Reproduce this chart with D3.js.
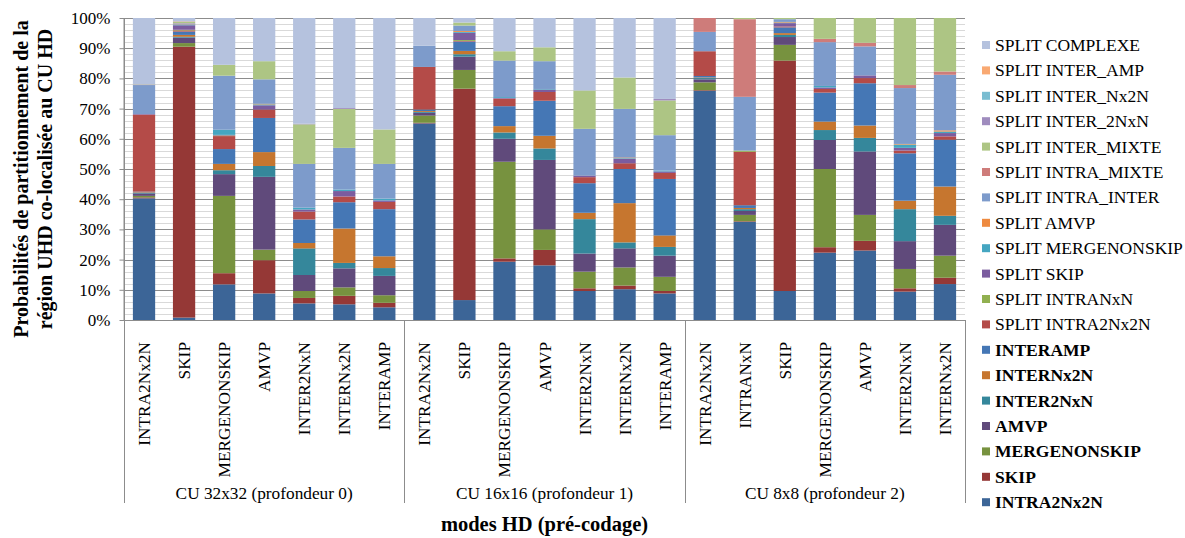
<!DOCTYPE html>
<html><head><meta charset="utf-8">
<script src="https://cdn.jsdelivr.net/npm/d3@7"></script>
<style>
body{margin:0;background:#fff}
svg{display:block}
text{font-family:"Liberation Serif","Times New Roman",serif;fill:#000}
</style>
</head><body><svg id="c" width="1185" height="538"></svg>
<script>
// ---------- DATA ----------
const categories = ["INTRA2Nx2N","SKIP","MERGENONSKIP","AMVP","INTER2NxN","INTERNx2N","INTERAMP",
  "INTRA2Nx2N","SKIP","MERGENONSKIP","AMVP","INTER2NxN","INTERNx2N","INTERAMP",
  "INTRA2Nx2N","INTRANxN","SKIP","MERGENONSKIP","AMVP","INTER2NxN","INTERNx2N"];
const groups = ["CU 32x32 (profondeur 0)","CU 16x16 (profondeur 1)","CU 8x8 (profondeur 2)"];
const groupSizes = [7,7,7];
const yTicks = [0,0.1,0.2,0.3,0.4,0.5,0.6,0.7,0.8,0.9,1];

// series, bottom of stack to top
const seriesNames = ["INTRA2Nx2N","SKIP","MERGENONSKIP","AMVP","INTER2NxN","INTERNx2N","INTERAMP",
  "SPLIT INTRA2Nx2N","SPLIT INTRANxN","SPLIT SKIP","SPLIT MERGENONSKIP","SPLIT AMVP",
  "SPLIT INTRA_INTER","SPLIT INTRA_MIXTE","SPLIT INTER_MIXTE","SPLIT INTER_2NxN",
  "SPLIT INTER_Nx2N","SPLIT INTER_AMP","SPLIT COMPLEXE"];

const INTRA2Nx2N   = [40.3,0.8,11.8,8.8,5.5,5.2,4.2, 65.1,6.6,19.3,18.1,9.6,10.2,8.8, 75.9,32.5,9.6,22.3,23.0,9.4,11.9];
const SKIP         = [0.3,89.7,3.7,11.0,1.8,2.8,1.5, 0.2,70.0,1.1,5.1,0.9,1.2,0.8, 0.2,0.2,76.3,1.8,3.2,1.1,2.1];
const MERGENONSKIP = [0.5,1.2,25.6,3.5,2.3,2.8,2.5, 2.4,6.2,32.0,6.8,5.5,6.0,4.7, 2.6,2.1,5.2,25.9,8.6,6.4,7.3];
const AMVP         = [0.8,1.8,7.2,24.1,5.3,6.3,6.4, 0.9,4.4,7.6,23.0,6.0,6.3,7.0, 1.0,1.3,2.6,9.6,21.0,9.2,10.2];
const INTER2NxN    = [0.2,0.3,1.3,3.6,8.8,1.8,2.6, 0.3,0.8,2.1,3.8,11.4,2.0,2.9, 0.4,0.6,0.7,3.3,4.5,10.6,3.0];
const INTERNx2N    = [0.2,0.6,2.1,4.6,1.8,11.4,3.9, 0.3,1.1,2.1,4.2,2.1,13.0,3.8, 0.2,0.4,0.6,2.8,4.1,2.8,9.7];
const INTERAMP     = [0.2,1.1,4.9,11.3,7.8,8.7,15.6, 0.5,3.1,6.6,11.6,9.8,11.3,18.7, 0.5,0.9,1.9,9.6,14.0,15.7,15.5];
const SPLIT_INTRA2Nx2N   = [25.5,0.4,4.3,2.8,2.6,1.9,2.4, 14.1,0.2,2.5,2.9,2.0,1.9,2.0, 8.2,17.7,0.3,1.2,1.7,0.9,1.1];
const SPLIT_INTRANxN     = [0,0.2,0.2,0,0,0,0, 0,0.3,0,0,0,0,0, 0,0.4,0,0,0,0,0];
const SPLIT_SKIP         = [0.2,1.5,0.2,1.4,0.7,1.8,0.5, 0,2.4,0.2,0.8,0.5,1.5,0.5, 0,0,1.1,0.5,0.9,0.9,1.1];
const SPLIT_MERGENONSKIP = [0,0.2,1.7,0.3,0.6,0.5,0.6, 0,0.3,0.3,0.2,0,0.2,0.3, 0,0,0.2,0.5,0,1.1,0.5];
const SPLIT_AMVP         = [0,0.1,0,0.2,0,0,0, 0,0.3,0,0,0,0.2,0, 0,0,0.2,0,0,0.2,0.4];
const SPLIT_INTRA_INTER  = [9.6,0.3,17.9,8.1,14.5,13.8,11.5, 7.0,1.8,12.1,9.2,15.5,16.1,11.7, 6.4,17.8,0.9,14.5,9.6,18.5,18.4];
const SPLIT_INTRA_MIXTE  = [0.1,0.1,0,0,0,0,0, 0,0,0,0,0,0,0, 4.6,25.7,0,1.1,1.2,1.0,1.1];
const SPLIT_INTER_MIXTE  = [0.1,0.4,3.6,6.0,13.1,12.9,11.4, 0,1.0,3.1,4.6,12.7,10.4,11.5, 0,0.4,0.4,6.9,8.2,22.2,17.7];
const SPLIT_INTER_2NxN   = [0,0.1,0,0,0.2,0.3,0, 0,0,0,0,0,0,0.5, 0,0,0,0,0,0,0];
const SPLIT_INTER_Nx2N   = [0,0.1,0,0,0,0,0, 0,0,0,0,0,0,0, 0,0,0,0,0,0,0];
const SPLIT_INTER_AMP    = [0,0.1,0,0,0,0,0, 0,0,0,0,0,0,0, 0,0,0,0,0,0,0];
const SPLIT_COMPLEXE     = [22.0,1.0,15.5,14.3,35.0,29.8,36.9, 9.2,1.5,11.0,9.7,24.0,19.7,26.8, 0,0,0,0,0,0,0];

const seriesValues = [INTRA2Nx2N,SKIP,MERGENONSKIP,AMVP,INTER2NxN,INTERNx2N,INTERAMP,
  SPLIT_INTRA2Nx2N,SPLIT_INTRANxN,SPLIT_SKIP,SPLIT_MERGENONSKIP,SPLIT_AMVP,
  SPLIT_INTRA_INTER,SPLIT_INTRA_MIXTE,SPLIT_INTER_MIXTE,SPLIT_INTER_2NxN,
  SPLIT_INTER_Nx2N,SPLIT_INTER_AMP,SPLIT_COMPLEXE];

const colors = ["#3C6597","#953836","#77923F","#604A7B","#35879B","#C6762F","#4577B5",
  "#B44B48","#91B050","#7B5C9F","#45A6C1","#EE8A3F",
  "#7D9BCB","#CE7C7A","#ADC584","#9F8CBE","#7ABDD1","#F9A972","#B5C2DE"];

// ---------- CHART ----------
const FS = "17.3px";
const m = {left:124,right:965,top:18,bottom:320};
const svg = d3.select("#c");
const ids = categories.map((c,i)=>i);
const x = d3.scaleBand().domain(ids).range([m.left,m.right]).paddingInner(0.444).paddingOuter(0.222);
const y = d3.scaleLinear().domain([0,1]).range([m.bottom,m.top]);
const color = d3.scaleOrdinal().domain(seriesNames).range(colors);

// minor gridlines every 2%
const minor = d3.range(1,50).map(k=>k*0.02).filter(v=>Math.round(v*100)%10!==0);
svg.append("g").selectAll("line").data(minor).join("line")
  .attr("x1",m.left).attr("x2",m.right)
  .attr("y1",d=>Math.round(y(d))+0.5).attr("y2",d=>Math.round(y(d))+0.5)
  .attr("stroke","#d9d9d9").attr("stroke-width",1);
// major gridlines
svg.append("g").selectAll("line").data(yTicks.slice(1)).join("line")
  .attr("x1",m.left).attr("x2",m.right)
  .attr("y1",d=>Math.round(y(d))+0.5).attr("y2",d=>Math.round(y(d))+0.5)
  .attr("stroke","#8c8c8c").attr("stroke-width",1);

// stacked bars
const data = ids.map(i=>{const o={id:i}; seriesNames.forEach((s,k)=>o[s]=seriesValues[k][i]); return o;});
const stacked = d3.stack().keys(seriesNames).offset(d3.stackOffsetExpand)(data);
svg.append("g").selectAll("g").data(stacked).join("g")
  .attr("fill",d=>color(d.key))
  .selectAll("rect").data(d=>d).join("rect")
  .attr("x",d=>x(d.data.id)).attr("width",x.bandwidth())
  .attr("y",d=>y(d[1])).attr("height",d=>Math.max(0,y(d[0])-y(d[1])));

// y axis
const ya = svg.append("g").attr("transform",`translate(${m.left+0.5},0)`)
  .call(d3.axisLeft(y).tickValues(yTicks).tickFormat(d3.format(".0%")).tickSize(5).tickPadding(9));
ya.select(".domain").attr("stroke","#8c8c8c").attr("d",`M-0.5,${m.top}V${m.bottom}`);
ya.selectAll(".tick line").attr("stroke","#8c8c8c");
ya.selectAll(".tick text").style("font-family","Liberation Serif").style("font-size","17px").attr("fill","#000");

// x axis line
const ax = svg.append("g");
ax.append("line").attr("x1",m.left).attr("x2",m.right).attr("y1",m.bottom+0.5).attr("y2",m.bottom+0.5).attr("stroke","#8c8c8c");
// group separators
const step = x.step(), gap = step - x.bandwidth();
let cum = [0]; groupSizes.forEach(g=>cum.push(cum[cum.length-1]+g));
const boundX = b => b===0 ? m.left : (b===categories.length ? m.right : x(b)-gap/2);
ax.selectAll("line.sep").data(cum).join("line").attr("class","sep")
  .attr("x1",d=>Math.round(boundX(d))+0.5).attr("x2",d=>Math.round(boundX(d))+0.5)
  .attr("y1",d=>d===0?m.top:m.bottom).attr("y2",503).attr("stroke","#8c8c8c");

// category labels
svg.append("g").selectAll("text").data(ids).join("text")
  .attr("transform",i=>`translate(${x(i)+x.bandwidth()/2+6},342) rotate(-90)`)
  .attr("text-anchor","end").style("font-size",FS)
  .text(i=>categories[i]);

// group labels
svg.append("g").selectAll("text").data(groups).join("text")
  .attr("x",(g,k)=>(boundX(cum[k])+boundX(cum[k+1]))/2).attr("y",499)
  .attr("text-anchor","middle").style("font-size",FS).text(g=>g);

// axis titles
svg.append("text").attr("x",(m.left+m.right)/2).attr("y",531).attr("text-anchor","middle")
  .style("font-size","20.5px").style("font-weight","bold").text("modes HD (pré-codage)");
const yt = svg.append("text").attr("transform","translate(0,179) rotate(-90)")
  .attr("text-anchor","middle").style("font-size","20px").style("font-weight","bold");
yt.append("tspan").attr("x",0).attr("y",28).text("Probabilités de partitionnement de la");
yt.append("tspan").attr("x",0).attr("y",52).text("région UHD co-localisée au CU HD");

// legend (top to bottom = reverse of stack)
const legendItems = seriesNames.slice().reverse();
const lg = svg.append("g").selectAll("g").data(legendItems).join("g")
  .attr("transform",(d,i)=>`translate(982,${45+i*25.4})`);
lg.append("rect").attr("x",0).attr("y",-4).attr("width",8).attr("height",8).attr("fill",d=>color(d));
lg.append("text").attr("x",13).attr("y",6).style("font-size","17.5px")
  .style("font-weight",d=>d.startsWith("SPLIT")?"normal":"bold").text(d=>d);
</script>
</body></html>
